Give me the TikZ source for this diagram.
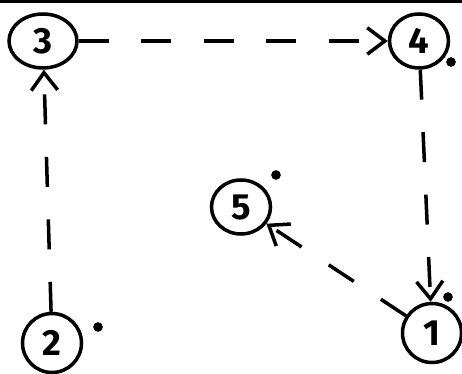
\documentclass[tikz,border=0pt]{standalone}
\usepackage{tikz}
\usepackage{fontspec}
\setsansfont{Fira Sans}
\usetikzlibrary{shapes.geometric, arrows.meta, positioning}

\begin{document}
\begin{tikzpicture}[x=0.02cm, y=-0.02cm,
        vertex/.style={draw, ellipse, line width=2pt, minimum width=1.18cm, minimum height=1.08cm, inner sep=0pt, font=\sffamily\bfseries\huge},
        edge/.style={line width=2pt, dash pattern=on 0.6cm off 0.65cm, -{Straight Barb[length=10pt, width=15pt, line width=2pt]}},
        dotmark/.style={fill, circle, inner sep=0pt, minimum size=5.5pt}]
            \useasboundingbox (0,0) rectangle (462,374);
            \fill (0,0) rectangle (462,3);

            % Nodes
            \node[vertex, minimum width=1.36cm] (n3) at (43,41) {3};
            \node[vertex] (n4) at (419,41) {4};
            \node[vertex] (n5) at (241,207) {5};
            \node[vertex, minimum height=1.18cm] (n2) at (52,343) {2};
            \node[vertex, minimum height=1.18cm] (n1) at (432,333) {1};

            % Small dots
            \node[dotmark] (d4) at (451,62) {};
            \node[dotmark] (d5) at (276,175) {};
            \node[dotmark] (d2) at (98,327) {};
            \node[dotmark] (d1) at (448,297) {};

            % Edges
            \draw[edge] (n2) -- (n3);
            \draw[edge] (n3) -- (n4);
            \draw[edge] (n4) -- (n1);
            \draw[edge] (n1) -- (n5);
        \end{tikzpicture}
\end{document}
